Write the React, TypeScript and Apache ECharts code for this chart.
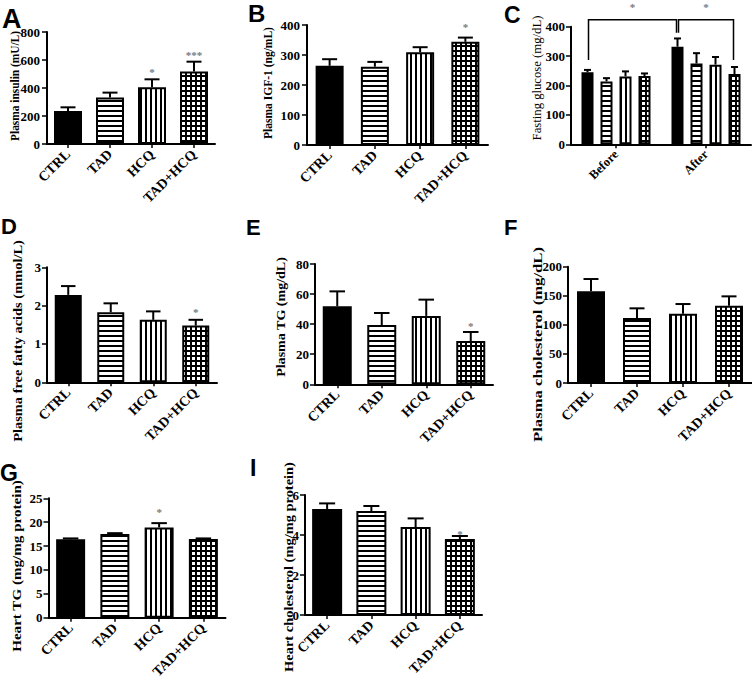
import React, { useEffect, useRef } from 'react';
import * as echarts from 'echarts';

// ---------------- data ----------------
const groups = ['CTRL', 'TAD', 'HCQ', 'TAD+HCQ'];

const insulinTicks = [0, 200, 400, 600, 800];
const insulinMean = [235, 333, 405, 518];
const insulinSem = [27, 34, 57, 70];
const insulinSig = ['', '', '*', '***'];

const igfTicks = [0, 100, 200, 300, 400];
const igfMean = [264, 261, 309, 344];
const igfSem = [22, 16, 17, 14];
const igfSig = ['', '', '', '*'];

const glucoseTicks = [0, 100, 200, 300, 400];
const glucosePeriods = ['Before', 'After'];
const glucoseCtrl = [245, 332];
const glucoseCtrlSem = [8, 28];
const glucoseTad = [214, 275];
const glucoseTadSem = [11, 35];
const glucoseHcq = [231, 271];
const glucoseHcqSem = [17, 26];
const glucoseCombo = [232, 239];
const glucoseComboSem = [9, 24];
// brackets: [period, group] endpoints, value of the bar line and of each end
const glucoseBracketFrom = [[0, 0], [1, 0]];
const glucoseBracketTo = [[1, 0], [1, 3]];
const glucoseBracketTop = [424, 424];
const glucoseBracketFromEnd = [287, 379];
const glucoseBracketToEnd = [379, 287];
const glucoseBracketSig = ['*', '*'];

const ffaTicks = [0, 1, 2, 3];
const ffaMean = [2.28, 1.83, 1.63, 1.48];
const ffaSem = [0.23, 0.23, 0.22, 0.15];
const ffaSig = ['', '', '', '*'];

const tgTicks = [0, 20, 40, 60, 80];
const tgMean = [51.9, 39.4, 45.5, 28.8];
const tgSem = [9.9, 8.0, 10.8, 6.0];
const tgSig = ['', '', '', '*'];

const cholTicks = [0, 50, 100, 150, 200];
const cholMean = [157.6, 111.7, 119.2, 133];
const cholSem = [21.2, 16.7, 16.6, 16];
const cholSig = ['', '', '', ''];

const heartTgTicks = [0, 5, 10, 15, 20, 25];
const heartTgMean = [16.4, 17.5, 18.9, 16.5];
const heartTgSem = [0.2, 0.2, 0.9, 0.1];
const heartTgSig = ['', '', '*', ''];

const heartCholTicks = [0, 2, 4, 6];
const heartCholMean = [5.3, 5.2, 4.4, 3.8];
const heartCholSem = [0.28, 0.25, 0.43, 0.15];
const heartCholSig = ['', '', '', '*'];

// ---------------- layout ----------------
const SERIF = '"Liberation Serif", "Times New Roman", serif';
const SANS = '"Liberation Sans", Arial, sans-serif';

const panels: any[] = [
  {
    letter: 'A', letterPos: [2, 18.5], letterSize: 27,
    title: 'Plasma insulin (mU/L)', titlePos: [15.5, 86], titleLen: 110, titleWeight: 'bold',
    grid: [47, 32, 168, 112], cats: groups, catFont: 14, ticks: insulinTicks, yMargin: 7,
    barWidth: 30, starGap: 9.5,
    series: [{ values: insulinMean, sems: insulinSem, sigs: insulinSig }],
  },
  {
    letter: 'B', letterPos: [248, 13], letterSize: 24,
    title: 'Plasma IGF-1 (ng/mL)', titlePos: [268, 83], titleLen: 112, titleWeight: 'bold',
    grid: [307, 25, 181, 120], cats: groups, catFont: 14, ticks: igfTicks, yMargin: 7,
    barWidth: 30, starGap: 13,
    series: [{ values: igfMean, sems: igfSem, sigs: igfSig }],
  },
  {
    letter: 'C', letterPos: [504, 15], letterSize: 23,
    title: 'Fasting glucose (mg/dL)', titlePos: [537.5, 78], titleLen: 125, titleWeight: 'normal',
    grid: [571, 26.7, 180, 117.6], cats: glucosePeriods, catFont: 12.5, ticks: glucoseTicks, yMargin: 6,
    barWidth: 14, barSpacing: 5, grouped: true, starGap: 0,
    series: [
      { values: glucoseCtrl, sems: glucoseCtrlSem },
      { values: glucoseTad, sems: glucoseTadSem },
      { values: glucoseHcq, sems: glucoseHcqSem },
      { values: glucoseCombo, sems: glucoseComboSem },
    ],
    brackets: true,
  },
  {
    letter: 'D', letterPos: [1, 226], letterSize: 22,
    title: 'Plasma free fatty acids (mmol/L)', titlePos: [17.5, 341], titleLen: 202, titleWeight: 'bold',
    grid: [47, 267.3, 170, 115], cats: groups, catFont: 14, ticks: ffaTicks, yMargin: 6,
    barWidth: 29, starGap: 10,
    series: [{ values: ffaMean, sems: ffaSem, sigs: ffaSig }],
  },
  {
    letter: 'E', letterPos: [246, 227], letterSize: 22,
    title: 'Plasma TG (mg/dL)', titlePos: [281, 317], titleLen: 120, titleWeight: 'bold',
    grid: [315, 264, 178, 120.3], cats: groups, catFont: 14, ticks: tgTicks, yMargin: 6,
    barWidth: 31, starGap: 8,
    series: [{ values: tgMean, sems: tgSem, sigs: tgSig }],
  },
  {
    letter: 'F', letterPos: [504, 227], letterSize: 22,
    title: 'Plasma cholesterol (mg/dL)', titlePos: [537.5, 344.5], titleLen: 195, titleWeight: 'bold',
    grid: [568, 266.7, 184, 116.3], cats: groups, catFont: 14, ticks: cholTicks, yMargin: 6,
    barWidth: 30, starGap: 10,
    series: [{ values: cholMean, sems: cholSem, sigs: cholSig }],
  },
  {
    letter: 'G', letterPos: [0, 473], letterSize: 23,
    title: 'Heart TG (mg/mg protein)', titlePos: [17.5, 566], titleLen: 172, titleWeight: 'bold',
    grid: [48.5, 498.3, 177, 119.4], cats: groups, catFont: 14, ticks: heartTgTicks, yMargin: 6,
    barWidth: 31, starGap: 14,
    series: [{ values: heartTgMean, sems: heartTgSem, sigs: heartTgSig }],
  },
  {
    letter: 'I', letterPos: [250, 468], letterSize: 23,
    title: 'Heart cholesterol (mg/mg protein)', titlePos: [288.5, 567], titleLen: 210, titleWeight: 'bold',
    grid: [305, 495, 177, 120], cats: groups, catFont: 14, ticks: heartCholTicks, yMargin: 6,
    barWidth: 32, starGap: 5,
    series: [{ values: heartCholMean, sems: heartCholSem, sigs: heartCholSig }],
  },
];

function makePattern(kind: string) {
  const c = document.createElement('canvas');
  c.width = 5;
  c.height = 5;
  const g = c.getContext('2d')!;
  g.fillStyle = '#fff';
  g.fillRect(0, 0, 5, 5);
  g.fillStyle = '#000';
  if (kind === 'h' || kind === 'grid') g.fillRect(0, 0, 5, 2);
  if (kind === 'v' || kind === 'grid') g.fillRect(0, 0, 2, 5);
  return { image: c, repeat: 'repeat' };
}

const STAR_COLOR = '#7a7a7a';

function buildOption() {
  const fills: any[] = ['#000', makePattern('h'), makePattern('v'), makePattern('grid')];
  const ctx = document.createElement('canvas').getContext('2d')!;
  const grid: any[] = [];
  const xAxis: any[] = [];
  const yAxis: any[] = [];
  const series: any[] = [];
  const graphic: any[] = [];

  panels.forEach((p, i) => {
    const [left, top, width, height] = p.grid;
    grid.push({ left, top, width, height, containLabel: false, outerBoundsMode: 'none' });
    xAxis.push({
      type: 'category', gridIndex: i, data: p.cats,
      axisLine: { show: true, onZero: false, lineStyle: { color: '#000', width: 2 } },
      axisTick: { show: true, alignWithLabel: true, length: 4, lineStyle: { color: '#000', width: 1.5 } },
      axisLabel: { rotate: 45, interval: 0, margin: 8, color: '#000', fontFamily: SERIF, fontWeight: 'bold', fontSize: p.catFont },
      splitLine: { show: false },
    });
    const t = p.ticks;
    yAxis.push({
      type: 'value', gridIndex: i, min: t[0], max: t[t.length - 1], interval: t[1] - t[0],
      axisLine: { show: true, lineStyle: { color: '#000', width: 2 } },
      axisTick: { show: true, length: 5, lineStyle: { color: '#000', width: 1.5 } },
      axisLabel: { margin: p.yMargin, color: '#000', fontFamily: SERIF, fontWeight: 'bold', fontSize: 13 },
      splitLine: { show: false },
    });

    const dataW = p.barWidth - 2;
    const n = p.series.length;
    const step = p.grouped ? p.barWidth + p.barSpacing : 0;
    const offsets = p.series.map((_: any, s: number) => (p.grouped ? (s - (n - 1) / 2) * step : 0));
    const gapPct = p.grouped ? ((step - dataW) / dataW) * 100 + '%' : '30%';

    p.series.forEach((sr: any, s: number) => {
      series.push({
        type: 'bar', xAxisIndex: i, yAxisIndex: i, barWidth: dataW, barGap: gapPct,
        silent: true, z: 2,
        itemStyle: { borderColor: '#000', borderWidth: 2 },
        data: sr.values.map((v: number, k: number) => ({
          value: v,
          itemStyle: { color: fills[p.grouped ? s : k], borderColor: '#000', borderWidth: 2 },
        })),
      });
    });

    const items: any[] = [];
    p.series.forEach((sr: any, s: number) =>
      sr.values.forEach((v: number, k: number) =>
        items.push({ cat: k, mean: v, sem: sr.sems[k], s, sig: sr.sigs ? sr.sigs[k] : '' })
      )
    );
    const capHalf = (p.barWidth * 0.5) / 2;
    series.push({
      type: 'custom', xAxisIndex: i, yAxisIndex: i, z: 5, silent: true, clip: false,
      encode: { x: 0, y: 1 },
      data: items.map((it) => [it.cat, it.mean, it.sem, it.s]),
      renderItem: (params: any, api: any) => {
        const it = items[params.dataIndex];
        const base = api.coord([api.value(0), api.value(1)]);
        const topP = api.coord([api.value(0), api.value(1) + api.value(2)]);
        const x = base[0] + offsets[api.value(3)];
        const ls = { stroke: '#000', lineWidth: 2 };
        const children: any[] = [
          { type: 'line', shape: { x1: x, y1: base[1], x2: x, y2: topP[1] }, style: ls },
          { type: 'line', shape: { x1: x - capHalf, y1: topP[1], x2: x + capHalf, y2: topP[1] }, style: ls },
        ];
        if (it.sig) {
          children.push({
            type: 'text', x, y: topP[1] - p.starGap + 2.5,
            style: { text: it.sig, fill: STAR_COLOR, font: `bold 11px ${SERIF}`, textAlign: 'center', textVerticalAlign: 'middle', align: 'center', verticalAlign: 'middle' },
          });
        }
        return { type: 'group', children };
      },
    });

    if (p.brackets) {
      series.push({
        type: 'custom', xAxisIndex: i, yAxisIndex: i, z: 6, silent: true, clip: false,
        encode: { x: 0, y: 1 },
        data: glucoseBracketTop.map((v, k) => [glucoseBracketFrom[k][0], v]),
        renderItem: (params: any, api: any) => {
          const k = params.dataIndex;
          const f = glucoseBracketFrom[k];
          const to = glucoseBracketTo[k];
          const x1 = api.coord([f[0], 0])[0] + offsets[f[1]] + 1;
          const x2 = api.coord([to[0], 0])[0] + offsets[to[1]] - 1;
          const yTop = api.coord([f[0], glucoseBracketTop[k]])[1];
          const y1 = api.coord([f[0], glucoseBracketFromEnd[k]])[1];
          const y2 = api.coord([f[0], glucoseBracketToEnd[k]])[1];
          return {
            type: 'group',
            children: [
              {
                type: 'polyline',
                shape: { points: [[x1, y1], [x1, yTop], [x2, yTop], [x2, y2]] },
                style: { stroke: '#000', lineWidth: 1.5, fill: 'none' },
              },
              {
                type: 'text', x: (x1 + x2) / 2, y: yTop - 15 + 2.5,
                style: { text: glucoseBracketSig[k], fill: STAR_COLOR, font: `bold 11px ${SERIF}`, textAlign: 'center', textVerticalAlign: 'middle', align: 'center', verticalAlign: 'middle' },
              },
            ],
          };
        },
      });
    }

    // panel letter
    graphic.push({
      type: 'text', x: p.letterPos[0], y: p.letterPos[1], silent: true,
      style: { text: p.letter, fill: '#000', font: `bold ${p.letterSize}px ${SANS}`, textAlign: 'left', textVerticalAlign: 'middle', align: 'left', verticalAlign: 'middle' },
    });
    // y axis title
    const size = 12;
    ctx.font = `${p.titleWeight} ${size}px "Liberation Serif"`;
    const w = ctx.measureText(p.title).width || p.titleLen;
    const scale = p.titleLen / w;
    graphic.push({
      type: 'text', x: p.titlePos[0], y: p.titlePos[1], rotation: Math.PI / 2, scaleX: scale, silent: true,
      style: { text: p.title, fill: '#000', font: `${p.titleWeight} ${size}px ${SERIF}`, textAlign: 'center', textVerticalAlign: 'middle', align: 'center', verticalAlign: 'middle' },
    });
  });

  return {
    animation: false,
    backgroundColor: '#fff',
    grid, xAxis, yAxis, series, graphic,
  };
}

export default function App() {
  const ref = useRef<HTMLDivElement>(null);
  useEffect(() => {
    const chart = echarts.init(ref.current!, null, { renderer: 'svg', width: 752, height: 678 });
    chart.setOption(buildOption() as any);
    return () => chart.dispose();
  }, []);
  return (
    <div
      ref={ref}
      style={{ position: 'absolute', left: 0, top: 0, width: 752, height: 678, background: '#fff' }}
    />
  );
}
